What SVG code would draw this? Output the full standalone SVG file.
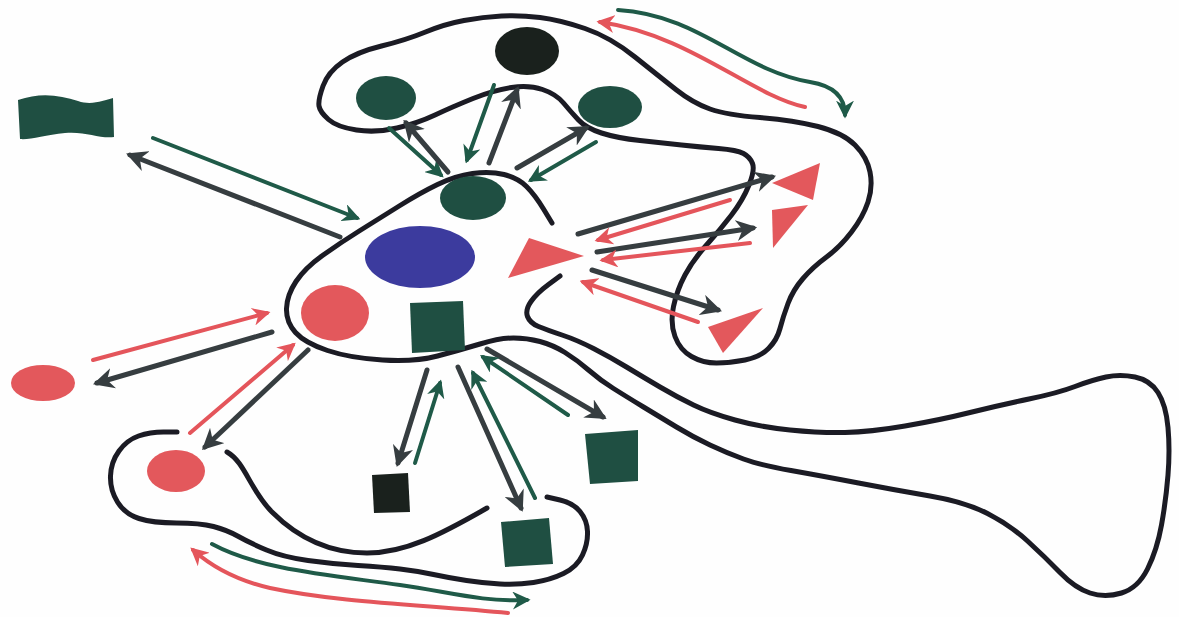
<svg xmlns="http://www.w3.org/2000/svg" width="1179" height="617" viewBox="0 0 1179 617">
<style>
.outline{fill:none;stroke:#1b1b24;stroke-width:5;stroke-linecap:round;stroke-linejoin:round}
.dark{fill:none;stroke:#363d40;stroke-width:5;stroke-linecap:round;marker-end:url(#hd)}
.grn{fill:none;stroke:#1f5a48;stroke-width:4;stroke-linecap:round;marker-end:url(#hg)}
.red{fill:none;stroke:#e4555b;stroke-width:4;stroke-linecap:round;marker-end:url(#hr)}
.rs{fill:#e3585c}
.gs{fill:#1f4f42}
.bs{fill:#1a211d}
.bl{fill:#3c3b9e}
</style>
<defs>
<marker id="hd" viewBox="0 0 10 10" refX="8" refY="5" markerWidth="4.2" markerHeight="4.2" orient="auto" markerUnits="strokeWidth"><path d="M0,0 L10,5 L0,10 L3,5 z" fill="#363d40"/></marker>
<marker id="hg" viewBox="0 0 10 10" refX="8" refY="5" markerWidth="4.5" markerHeight="4.5" orient="auto" markerUnits="strokeWidth"><path d="M0,0 L10,5 L0,10 L3,5 z" fill="#1f5a48"/></marker>
<marker id="hr" viewBox="0 0 10 10" refX="8" refY="5" markerWidth="4.5" markerHeight="4.5" orient="auto" markerUnits="strokeWidth"><path d="M0,0 L10,5 L0,10 L3,5 z" fill="#e4555b"/></marker>
</defs>
<rect width="1179" height="617" fill="#fefefe"/>
<g id="cells">
<path id="central-cell" class="outline" d="M552,223 L543.5,209 Q535,195 526.5,186.5 Q518,178 504,174.5 Q490,171 472.5,173.5 Q455,176 437.5,184.5 Q420,193 400,205.5 Q380,218 360,230.5 Q340,243 322.5,255.5 Q305,268 296,281.5 Q287,295 286.5,308.5 Q286,322 295.5,332.5 Q305,343 327.5,350.5 Q350,358 382.5,360 Q415,362 437.5,356 Q460,350 480,344 Q500,338 513.5,338 Q527,338 540,341.5 Q553,345 565,352.5 Q577,360 588.5,370 Q600,380 613.5,388.5 Q627,397 643.5,407 Q660,417 676.5,427 Q693,437 710,445 Q727,453 743.5,459 Q760,465 791,470.5 Q822,476 858.5,483 Q895,490 930,496 Q965,502 987.5,513.5 Q1010,525 1027.5,541 Q1045,557 1060,572.5 Q1075,588 1090,593 Q1105,598 1121.5,593 Q1138,588 1147.5,569 Q1157,550 1161.5,525 Q1166,500 1168,475 Q1170,450 1168,427.5 Q1166,405 1158,392.5 Q1150,380 1135,377 Q1120,374 1106,377 Q1092,380 1075,386.5 Q1058,393 1029,399 Q1000,405 970,412.5 Q940,420 905,426 Q870,432 845,432.5 Q820,433 790,430 Q760,427 735,420 Q710,413 693.5,405 Q677,397 660,387 Q643,377 626.5,367 Q610,357 593.5,348.5 Q577,340 562,335 Q547,330 538.5,326.5 Q530,323 527.5,316.5 Q525,310 531,301.5 Q537,293 548.5,284.5 L560,276"/>
<path id="top-cell" class="outline" d="M319,106 Q318,100 323,86 Q328,72 342.5,62 Q357,52 381.5,46 Q406,40 425.5,32 Q445,24 464,20.5 Q483,17 501.5,16 Q520,15 540,17.5 Q560,20 585,28.5 Q610,37 635,57 Q660,77 676.5,90 Q693,103 710,109 Q727,115 760,117.5 Q793,120 818,126.5 Q843,133 855,145 Q867,157 870,172 Q873,187 868,202 Q863,217 851.5,232 Q840,247 826.5,257 Q813,267 803,278.5 Q793,290 788,303.5 Q783,317 780,328.5 Q777,340 768.5,348.5 Q760,357 745,360 Q730,363 716.5,363 Q703,363 691.5,356.5 Q680,350 675,336.5 Q670,323 673.5,306.5 Q677,290 685,275 Q693,260 706.5,245 Q720,230 731.5,215 Q743,200 749,185 Q755,170 752.5,163.5 Q750,157 743.5,153.5 Q737,150 718.5,148.5 Q700,147 681.5,145 Q663,143 640,140.5 Q617,138 601.5,133 Q586,128 578.5,120 Q571,112 563.5,103 Q556,94 542.5,89.5 Q529,85 511.5,87.5 Q494,90 473,98.5 Q452,107 435,115 Q418,123 397,128 Q376,133 356.5,130 Q337,127 328.5,119.5 Q320,112 319,106 Z"/>
<path id="bottom-cell-outer" class="outline" d="M177,432 L163.5,432 Q150,432 138.5,436 Q127,440 119,451 Q111,462 110.5,476 Q110,490 117.5,502 Q125,514 139,518.5 Q153,523 176.5,523 Q200,523 213.5,526.5 Q227,530 238.5,536.5 Q250,543 266.5,550 Q283,557 308,560.5 Q333,564 358,565.5 Q383,567 400,569 Q417,571 433.5,574.5 Q450,578 466.5,580.5 Q483,583 500,584 Q517,585 533.5,582.5 Q550,580 563.5,573.5 Q577,567 582.5,555 Q588,543 587.5,531.5 Q587,520 580,511.5 Q573,503 560,500 L547,497"/>
<path id="bottom-cell-inner" class="outline" d="M227,452 C245,462 250,490 272,512 C295,535 325,553 367,553 C405,553 440,535 487,508"/>
</g>
<g id="connectors">
<line class="grn" x1="389" y1="128" x2="441" y2="175"/>
<line class="dark" x1="448" y1="172" x2="406" y2="123"/>
<line class="grn" x1="494" y1="85" x2="467" y2="160"/>
<line class="dark" x1="489" y1="163" x2="517" y2="90"/>
<line class="dark" x1="517" y1="168" x2="586" y2="128"/>
<line class="grn" x1="596" y1="142" x2="531" y2="180"/>
<line class="dark" x1="578" y1="234" x2="772" y2="177"/>
<line class="red" x1="730" y1="200" x2="598" y2="240"/>
<line class="dark" x1="597" y1="252" x2="753" y2="228"/>
<line class="red" x1="750" y1="243" x2="603" y2="260"/>
<line class="dark" x1="592" y1="270" x2="718" y2="310"/>
<line class="red" x1="698" y1="322" x2="583" y2="282"/>
<line class="dark" x1="487" y1="349" x2="603" y2="417"/>
<line class="grn" x1="568" y1="415" x2="483" y2="357"/>
<line class="dark" x1="427" y1="370" x2="398" y2="463"/>
<line class="grn" x1="415" y1="463" x2="440" y2="383"/>
<line class="dark" x1="458" y1="367" x2="521" y2="508"/>
<line class="grn" x1="535" y1="498" x2="473" y2="373"/>
<line class="red" x1="93" y1="360" x2="267" y2="313"/>
<line class="dark" x1="272" y1="332" x2="97" y2="383"/>
<line class="red" x1="190" y1="433" x2="293" y2="345"/>
<line class="dark" x1="308" y1="350" x2="205" y2="447"/>
<line class="grn" x1="153" y1="138" x2="357" y2="218"/>
<line class="dark" x1="340" y1="237" x2="130" y2="155"/>
<path class="red" d="M805,107 C750,95 690,35 600,22"/>
<path class="grn" d="M618,10 C700,15 740,70 810,82 C835,86 845,98 845,115"/>
<path class="grn" d="M212,544 C260,570 330,575 400,585 C450,592 480,602 527,600"/>
<path class="red" d="M508,613 C430,605 340,603 270,588 C235,580 210,565 193,550"/>
</g>
<g id="n-top-black"><ellipse class="bs" cx="527" cy="51" rx="32" ry="24"/></g>
<g id="n-top-left-green"><ellipse class="gs" cx="386" cy="98" rx="30" ry="22"/></g>
<g id="n-top-right-green"><ellipse class="gs" cx="610" cy="107" rx="32" ry="21"/></g>
<g id="n-center-green"><ellipse class="gs" cx="473" cy="198" rx="33" ry="22"/></g>
<g id="n-blue"><ellipse class="bl" cx="420" cy="257" rx="55" ry="31"/></g>
<g id="n-center-triangle"><polygon class="rs" points="508,278 529,238 584,256"/></g>
<g id="n-tri1"><polygon class="rs" points="772,183 820,163 813,200"/></g>
<g id="n-tri2"><polygon class="rs" points="772,210 808,205 773,248"/></g>
<g id="n-tri3"><polygon class="rs" points="708,327 763,308 723,353"/></g>
<g id="n-cell-red"><ellipse class="rs" cx="335" cy="313" rx="34" ry="28"/></g>
<g id="n-cell-square"><polygon class="gs" points="410,303 463,301 465,350 412,353"/></g>
<g id="n-left-red"><ellipse class="rs" cx="43" cy="383" rx="32" ry="18"/></g>
<g id="n-bottom-red"><ellipse class="rs" cx="176" cy="471" rx="29" ry="21"/></g>
<g id="n-black-square"><polygon class="bs" points="372,475 408,473 410,512 374,513"/></g>
<g id="n-bottom-square"><polygon class="gs" points="501,522 549,518 553,564 505,567"/></g>
<g id="n-right-square"><polygon class="gs" points="585,434 638,430 638,481 590,484"/></g>
<g id="n-topleft-rect"><path class="gs" d="M18,100 C40,92 60,95 78,101 C92,106 104,100 113,98 L114,137 C100,139 85,131 65,133 C45,135 30,140 20,139 Z"/></g>
</svg>
